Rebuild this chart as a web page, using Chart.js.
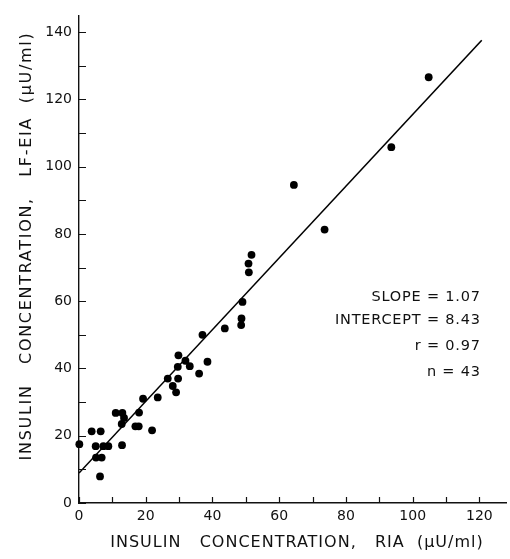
<!DOCTYPE html>
<html><head><meta charset="utf-8">
<script src="https://cdn.jsdelivr.net/npm/chart.js@4/dist/chart.umd.min.js"></script>
<style>html,body{margin:0;padding:0;background:#fff}#wrap{width:510px;height:559px}</style>
</head><body><div id="wrap"><canvas id="c" width="510" height="559"></canvas></div>
<script>
// Insulin concentration, RIA (x) vs LF-EIA (y), µU/ml
const riaValues = [0.1,3.8,6.5,5.0,5.1,6.8,6.3,7.3,8.8,11.0,13.0,13.5,12.8,12.9,16.9,17.9,18.0,19.2,21.9,23.6,26.6,28.1,29.1,29.7,29.6,29.8,31.9,33.2,36.0,37.0,38.5,43.7,48.6,48.7,49.0,50.8,50.9,51.7,64.4,73.6,93.6,104.8];
const eiaValues = [17.5,21.3,21.3,16.9,13.5,13.5,7.9,16.9,16.9,26.8,26.8,25.3,23.5,17.2,22.8,22.8,26.9,31.0,21.6,31.4,37.0,34.8,32.9,37.0,40.5,43.9,42.3,40.7,38.5,50.0,42.0,51.9,52.9,54.9,59.8,71.2,68.6,73.8,94.6,81.3,105.8,126.6];
const fitX = [0, 120.7];
const fitY = [8.9, 137.6];
const xTickLabels = [0,20,40,60,80,100,120];
const yTickLabels = [0,20,40,60,80,100,120,140];
const statLines = ["SLOPE = 1.07","INTERCEPT = 8.43","r = 0.97","n = 43"];
const xTitle = "INSULIN   CONCENTRATION,   RIA  (\u03BCU/ml)";
const yTitle = "INSULIN   CONCENTRATION,   LF-EIA  (\u03BCU/ml)";

const FONT = "'DejaVu Sans', sans-serif";
const INK = '#111';

const decor = {
  id: 'decor',
  afterDatasetsDraw(chart) {
    const ctx = chart.ctx;
    const xs = chart.scales.x, ys = chart.scales.y;
    ctx.save();
    ctx.strokeStyle = INK; ctx.lineWidth = 1.2;
    ctx.beginPath();
    xs.ticks.forEach(t => { const p = Math.round(xs.getPixelForValue(t.value)) + 0.5; ctx.moveTo(p, xs.top); ctx.lineTo(p, xs.top - 6); });
    ys.ticks.forEach(t => { const p = Math.round(ys.getPixelForValue(t.value)) + 0.5; ctx.moveTo(ys.right, p); ctx.lineTo(ys.right + 7, p); });
    ctx.stroke();
    ctx.fillStyle = INK;
    // statistics annotation
    ctx.font = "14.5px " + FONT;
    if ('letterSpacing' in ctx) ctx.letterSpacing = '0.8px';
    ctx.textAlign = 'right'; ctx.textBaseline = 'middle';
    const rx = xs.getPixelForValue(120.4);
    const yv = [61.2, 54.4, 46.6, 38.9];
    statLines.forEach((s, i) => ctx.fillText(s, rx, ys.getPixelForValue(yv[i])));
    // axis titles
    ctx.textAlign = 'center';
    ctx.font = "16px " + FONT;
    if ('letterSpacing' in ctx) ctx.letterSpacing = '1px';
    ctx.fillText(xTitle, 297, 543);
    ctx.save();
    ctx.translate(27, 246);
    ctx.rotate(-Math.PI / 2);
    if ('letterSpacing' in ctx) ctx.letterSpacing = '1.7px';
    ctx.fillText(yTitle, 0, 0);
    ctx.restore();
    ctx.restore();
  }
};

const data = {
  datasets: [
    {
      type: 'scatter',
      data: riaValues.map((x, i) => ({x, y: eiaValues[i]})),
      backgroundColor: '#000', borderWidth: 0, pointRadius: 3.9, pointHoverRadius: 3.9, clip: false
    },
    {
      type: 'line',
      data: fitX.map((x, i) => ({x, y: fitY[i]})),
      borderColor: '#000', borderWidth: 1.6, pointRadius: 0, fill: false, tension: 0
    }
  ]
};

new Chart(document.getElementById('c'), {
  data,
  options: {
    responsive: false, animation: false, devicePixelRatio: 1,
    layout: { padding: { top: 15, right: 1, left: 0, bottom: 0 } },
    plugins: { legend: { display: false }, tooltip: { enabled: false } },
    scales: {
      x: {
        type: 'linear', min: 0, max: 128,
        grid: { display: false, drawTicks: false },
        border: { display: true, color: INK, width: 1.4 },
        ticks: {
          stepSize: 10, includeBounds: false, autoSkip: false, maxRotation: 0, padding: 5,
          color: INK, font: { family: FONT, size: 14 },
          callback: v => xTickLabels.includes(v) ? String(v) : ''
        },
        title: { display: false },
        afterFit: s => { s.height = 56; }
      },
      y: {
        type: 'linear', min: 0, max: 145,
        grid: { display: false, drawTicks: false },
        border: { display: true, color: INK, width: 1.4 },
        ticks: {
          stepSize: 10, includeBounds: false, autoSkip: false, padding: 7,
          color: INK, font: { family: FONT, size: 14 },
          callback: v => yTickLabels.includes(v) ? String(v) : ''
        },
        title: { display: false },
        afterFit: s => { s.width = 79; }
      }
    }
  },
  plugins: [decor]
});
</script>
</body></html>
